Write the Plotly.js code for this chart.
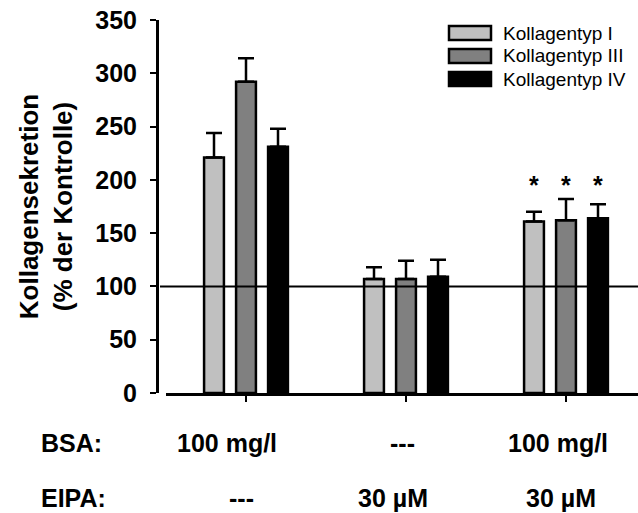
<!DOCTYPE html>
<html>
<head>
<meta charset="utf-8">
<script src="https://cdn.plot.ly/plotly-3.0.1.min.js"></script>
<style>
  html, body { margin: 0; padding: 0; background: #fff; }
  #chart { width: 638px; height: 513px; }
</style>
</head>
<body>
<div id="chart"></div>
<script>
// Collagen secretion (% of control) per treatment group
const groups = [0, 1, 2];
const seriesNames = ['Kollagentyp I', 'Kollagentyp III', 'Kollagentyp IV'];
const seriesColors = ['#c0c0c0', '#808080', '#000000'];

const typeI   = [221, 107, 161];
const typeIII = [292, 107, 162];
const typeIV  = [231, 109, 164];

const errI   = [23, 11, 9];
const errIII = [22, 17, 20];
const errIV  = [17, 16, 13];

// significance markers per series (per group)
const starsI   = ['', '', '*'];
const starsIII = ['', '', '*'];
const starsIV  = ['', '', '*'];
const starLevel = 195;

const controlLevel = 100;

// condition rows under the x axis
const rowTitles = ['BSA:', 'EIPA:'];
const bsaLabels  = ['100 mg/l', '---', '100 mg/l'];
const eipaLabels = ['---', '30 µM', '30 µM'];

// ---- layout geometry ----
const W = 638, H = 513;
const M = { l: 157, r: 0, t: 20, b: 120 };
const plotW = W - M.l - M.r, plotH = H - M.t - M.b;
const fx = px => (px - M.l) / plotW;
const fy = py => (H - M.b - py) / plotH;

const FONT = 'Arial, "Liberation Sans", sans-serif';
const bargap = 0.4;
const slot = (1 - bargap) / 3;

const values = [typeI, typeIII, typeIV];
const errs = [errI, errIII, errIV];
const stars = [starsI, starsIII, starsIV];

const traces = values.map((v, k) => ({
  type: 'bar',
  name: seriesNames[k],
  x: groups,
  y: v,
  marker: { color: seriesColors[k], line: { color: '#000', width: 2.5 } },
  error_y: {
    type: 'data', array: errs[k], symmetric: false,
    arrayminus: v.map(() => 0),
    color: '#000', thickness: 2.5, width: 8
  },
  showlegend: false,
  hoverinfo: 'skip'
}));

const annotations = [];
// asterisks above the bars
stars.forEach((s, k) => {
  s.forEach((t, g) => {
    if (!t) return;
    annotations.push({
      xref: 'x', yref: 'y', x: groups[g] + (k - 1) * slot, y: starLevel,
      text: t, showarrow: false, xanchor: 'center', yanchor: 'middle',
      font: { family: FONT, size: 25, color: '#000', weight: 'bold' }
    });
  });
});

// condition rows
const rowY = [443, 498];
const rowShift = [[-19, -4, -8], [-5, -13, -5]];
[bsaLabels, eipaLabels].forEach((labels, r) => {
  annotations.push({
    xref: 'paper', yref: 'paper', x: fx(40), y: fy(rowY[r]),
    text: rowTitles[r], showarrow: false, xanchor: 'left', yanchor: 'middle',
    borderpad: 0,
    font: { family: FONT, size: 25, color: '#000', weight: 'bold' }
  });
  labels.forEach((t, g) => {
    annotations.push({
      xref: 'x', yref: 'paper', x: groups[g], y: fy(rowY[r]),
      xshift: rowShift[r][g], borderpad: 0,
      text: t, showarrow: false, xanchor: 'center', yanchor: 'middle',
      font: { family: FONT, size: 25, color: '#000', weight: 'bold' }
    });
  });
});

// legend (swatch boxes + labels)
const shapes = [{
  type: 'line', xref: 'paper', yref: 'y', x0: fx(160), x1: 1,
  y0: controlLevel, y1: controlLevel,
  line: { color: '#000', width: 2 }, layer: 'above'
}];
const legendRows = [33, 56, 79];
seriesNames.forEach((name, k) => {
  const cy = legendRows[k];
  shapes.push({
    type: 'rect', xref: 'paper', yref: 'paper',
    x0: fx(449), x1: fx(491), y0: fy(cy + 7), y1: fy(cy - 7),
    fillcolor: seriesColors[k], line: { color: '#000', width: 2.5 }, layer: 'above'
  });
  annotations.push({
    xref: 'paper', yref: 'paper', x: fx(501), y: fy(cy),
    text: name, showarrow: false, xanchor: 'left', yanchor: 'middle',
    font: { family: FONT, size: 19, color: '#000' }
  });
});

const layout = {
  width: W, height: H,
  margin: M,
  paper_bgcolor: '#fff', plot_bgcolor: '#fff',
  barmode: 'group', bargap: bargap, bargroupgap: 0.38,
  showlegend: false,
  xaxis: {
    domain: [fx(166), 1],
    range: [-0.5, 2.45],
    tickvals: groups, showticklabels: false,
    ticks: 'outside', ticklen: 6, tickwidth: 2.5, tickcolor: '#000',
    showline: true, linewidth: 2.5, linecolor: '#000',
    showgrid: false, zeroline: false, fixedrange: true
  },
  yaxis: {
    anchor: 'free', position: 0,
    range: [0, 350], dtick: 50, tick0: 0,
    ticks: 'outside', ticklen: 6, tickwidth: 2, tickcolor: '#000',
    ticklabelstandoff: 8,
    tickfont: { family: FONT, size: 25, color: '#000', weight: 'bold' },
    showline: true, linewidth: 2.5, linecolor: '#000',
    showgrid: false, zeroline: false, fixedrange: true,
    title: {
      text: 'Kollagensekretion<br>(% der Kontrolle)',
      font: { family: FONT, size: 26, color: '#000', weight: 'bold' },
      standoff: 14
    }
  },
  shapes: shapes,
  annotations: annotations
};

Plotly.newPlot('chart', traces, layout, { staticPlot: true, displayModeBar: false });
</script>
</body>
</html>
